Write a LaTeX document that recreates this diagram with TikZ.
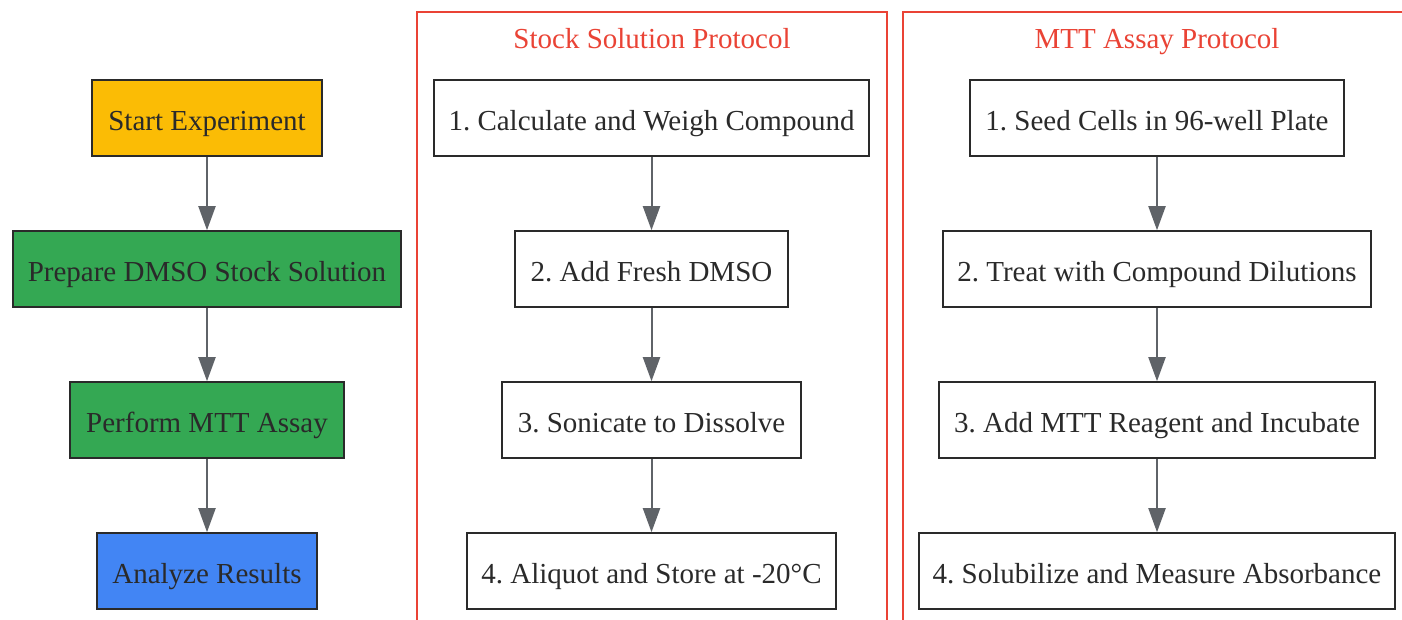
\documentclass[tikz,border=0pt]{standalone}
\usepackage{fontspec}
\setmainfont{Liberation Serif}
\usetikzlibrary{arrows.meta}
\frenchspacing
\definecolor{txt}{HTML}{2A2A2A}
\definecolor{edge}{HTML}{5F6368}
\definecolor{gy}{HTML}{FBBC05}
\definecolor{gg}{HTML}{34A853}
\definecolor{gb}{HTML}{4285F4}
\definecolor{gr}{HTML}{EA4335}
\tikzset{
  box/.style={draw=txt, line width=1.6pt, text=txt, minimum height=76pt, inner sep=0pt,
    text height=24pt, text depth=0pt,
    font=\fontsize{29}{34}\selectfont, anchor=center},
  conn/.style={draw=edge, line width=2pt, -{Triangle[length=24pt,width=17pt]}},
  cluster/.style={draw=gr, line width=1.6pt},
  clabel/.style={text=gr, text height=24pt, text depth=0pt, inner sep=0pt, font=\fontsize{29}{34}\selectfont}
}
\begin{document}
\begin{tikzpicture}[x=1pt,y=-1pt]
\useasboundingbox (0,0) rectangle (1402,619);
\clip (0,0) rectangle (1402,619);
\fill[white] (0,0) rectangle (1402,619);
% clusters
\draw[cluster] (417,12) rectangle (887,660);
\draw[cluster] (903,12) rectangle (1430,660);
\node[clabel] (c1) at (652,36) {Stock Solution Protocol};
\node[clabel] (c2) at (1157,36) {MTT Assay Protocol};
% left column
\node[box, fill=gy, minimum width=230pt] (a1) at (207,118) {Start Experiment};
\node[box, fill=gg, minimum width=388pt] (a2) at (207,269) {Prepare DMSO Stock Solution};
\node[box, fill=gg, minimum width=274pt] (a3) at (207,420) {Perform MTT Assay};
\node[box, fill=gb, minimum width=220pt] (a4) at (207,571) {Analyze Results};
% middle column
\node[box, fill=white, minimum width=435pt] (b1) at (651.5,118) {1. Calculate and Weigh Compound};
\node[box, fill=white, minimum width=273pt] (b2) at (651.5,269) {2. Add Fresh DMSO};
\node[box, fill=white, minimum width=299pt] (b3) at (651.5,420) {3. Sonicate to Dissolve};
\node[box, fill=white, minimum width=369pt] (b4) at (651.5,571) {4. Aliquot and Store at -20°C};
% right column
\node[box, fill=white, minimum width=374pt] (r1) at (1157,118) {1. Seed Cells in 96-well Plate};
\node[box, fill=white, minimum width=428pt] (r2) at (1157,269) {2. Treat with Compound Dilutions};
\node[box, fill=white, minimum width=436pt] (r3) at (1157,420) {3. Add MTT Reagent and Incubate};
\node[box, fill=white, minimum width=476pt] (r4) at (1157,571) {4. Solubilize and Measure Absorbance};
% connectors
\draw[conn] (a1) -- (a2);
\draw[conn] (a2) -- (a3);
\draw[conn] (a3) -- (a4);
\draw[conn] (b1) -- (b2);
\draw[conn] (b2) -- (b3);
\draw[conn] (b3) -- (b4);
\draw[conn] (r1) -- (r2);
\draw[conn] (r2) -- (r3);
\draw[conn] (r3) -- (r4);
\end{tikzpicture}
\end{document}
